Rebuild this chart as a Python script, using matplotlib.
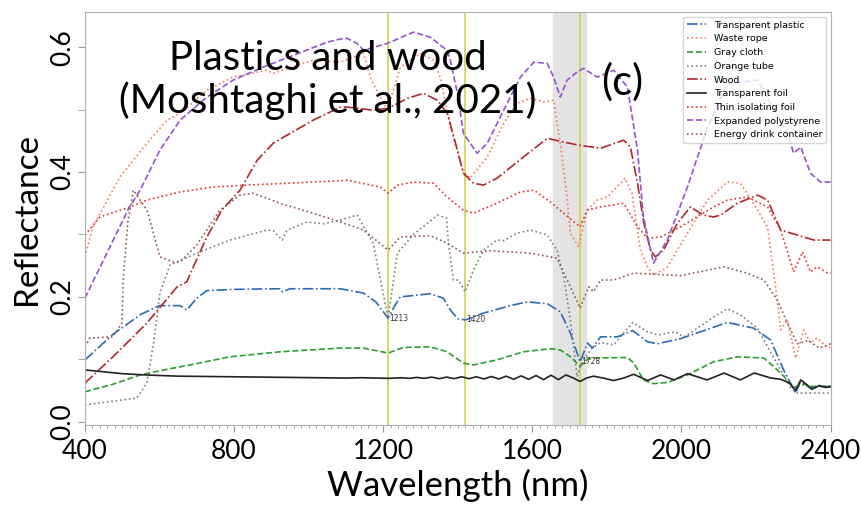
import matplotlib
matplotlib.use("Agg")
import matplotlib.pyplot as plt
from matplotlib.ticker import MultipleLocator, FixedLocator

# Reflectance spectra, wavelength in nm
wl_plastic = [400, 475, 550, 600, 655, 673, 700, 727, 800, 923, 930, 950, 1085, 1147, 1180, 1213,
              1230, 1246, 1326, 1361, 1380, 1400, 1420, 1469, 1541, 1586, 1640, 1675, 1702, 1728,
              1748, 1761, 1783, 1828, 1869, 1909, 1936, 1997, 2060, 2123, 2193, 2239, 2274, 2306,
              2319, 2346, 2365, 2400]
r_plastic = [0.099, 0.140, 0.172, 0.186, 0.186, 0.179, 0.198, 0.210, 0.212, 0.213, 0.208, 0.213, 0.213,
             0.206, 0.192, 0.166, 0.185, 0.200, 0.205, 0.198, 0.179, 0.165, 0.163, 0.174, 0.186,
             0.192, 0.189, 0.176, 0.142, 0.096, 0.126, 0.118, 0.136, 0.136, 0.146, 0.128, 0.125,
             0.133, 0.146, 0.159, 0.150, 0.131, 0.083, 0.046, 0.064, 0.054, 0.058, 0.056]

wl_rope = [400, 421, 494, 566, 620, 655, 727, 797, 888, 905, 942, 1012, 1085, 1147, 1168, 1211,
           1246, 1300, 1335, 1353, 1380, 1415, 1433, 1479, 1523, 1559, 1595, 1631, 1657, 1675,
           1693, 1702, 1724, 1747, 1774, 1801, 1827, 1849, 1867, 1890, 1909, 1925, 1962, 2016,
           2070, 2123, 2158, 2193, 2231, 2257, 2266, 2284, 2306, 2328, 2346, 2364, 2392, 2400]
r_rope = [0.264, 0.312, 0.392, 0.446, 0.483, 0.494, 0.531, 0.552, 0.563, 0.558, 0.566, 0.579, 0.576,
          0.590, 0.547, 0.499, 0.568, 0.590, 0.579, 0.552, 0.472, 0.400, 0.390, 0.424, 0.478,
          0.510, 0.518, 0.512, 0.515, 0.446, 0.360, 0.302, 0.280, 0.339, 0.355, 0.360, 0.376,
          0.390, 0.366, 0.275, 0.248, 0.235, 0.248, 0.302, 0.355, 0.384, 0.382, 0.350, 0.312,
          0.195, 0.147, 0.163, 0.102, 0.147, 0.126, 0.134, 0.118, 0.120]

wl_cloth = [400, 475, 548, 620, 682, 789, 923, 1085, 1147, 1213, 1254, 1326, 1371, 1415, 1442,
            1505, 1576, 1648, 1675, 1700, 1728, 1748, 1764, 1855, 1872, 1898, 1925, 1962, 2016,
            2086, 2150, 2221, 2248, 2274, 2301, 2330, 2355, 2400]
r_cloth = [0.048, 0.060, 0.075, 0.084, 0.091, 0.104, 0.112, 0.118, 0.118, 0.110, 0.119, 0.120, 0.112,
           0.094, 0.091, 0.099, 0.112, 0.117, 0.115, 0.105, 0.089, 0.100, 0.102, 0.103, 0.094,
           0.067, 0.061, 0.063, 0.075, 0.096, 0.104, 0.102, 0.088, 0.073, 0.055, 0.060, 0.056, 0.057]

wl_tube = [400, 539, 566, 584, 601, 628, 700, 789, 888, 905, 929, 942, 996, 1040, 1085, 1130,
           1173, 1213, 1238, 1281, 1346, 1370, 1375, 1388, 1401, 1420, 1442, 1469, 1505, 1523,
           1559, 1595, 1640, 1666, 1684, 1702, 1720, 1730, 1742, 1761, 1783, 1818, 1869, 1909,
           1936, 1984, 2006, 2033, 2087, 2123, 2158, 2204, 2231, 2266, 2293, 2311, 2355, 2400]
r_tube = [0.027, 0.038, 0.062, 0.126, 0.206, 0.251, 0.270, 0.291, 0.307, 0.306, 0.291, 0.307, 0.320,
          0.317, 0.323, 0.331, 0.286, 0.166, 0.270, 0.300, 0.331, 0.326, 0.286, 0.227, 0.227,
          0.208, 0.243, 0.275, 0.291, 0.290, 0.302, 0.307, 0.299, 0.275, 0.232, 0.163, 0.072,
          0.090, 0.104, 0.118, 0.127, 0.123, 0.159, 0.144, 0.139, 0.144, 0.136, 0.146, 0.168,
          0.181, 0.171, 0.150, 0.120, 0.083, 0.054, 0.046, 0.046, 0.046]

wl_wood = [400, 475, 566, 647, 673, 695, 727, 767, 816, 862, 905, 942, 1012, 1085, 1103, 1173,
           1213, 1265, 1308, 1345, 1372, 1399, 1415, 1442, 1469, 1505, 1576, 1640, 1684, 1724,
           1783, 1845, 1863, 1882, 1899, 1917, 1930, 1952, 1989, 2024, 2059, 2086, 2105, 2150,
           2204, 2231, 2266, 2311, 2355, 2400]
r_wood = [0.062, 0.104, 0.158, 0.216, 0.224, 0.254, 0.296, 0.339, 0.371, 0.419, 0.446, 0.459, 0.483,
          0.504, 0.504, 0.499, 0.502, 0.518, 0.526, 0.515, 0.494, 0.435, 0.398, 0.382, 0.379,
          0.390, 0.424, 0.454, 0.448, 0.443, 0.438, 0.451, 0.440, 0.382, 0.318, 0.275, 0.264,
          0.275, 0.318, 0.344, 0.331, 0.328, 0.331, 0.350, 0.363, 0.355, 0.307, 0.299, 0.291, 0.291]

wl_foil = [400, 450, 500, 560, 650, 800, 950, 1100, 1140, 1180, 1213, 1250, 1270, 1290, 1310,
           1330, 1350, 1370, 1390, 1410, 1430, 1450, 1470, 1490, 1510, 1530, 1550, 1570, 1590,
           1610, 1630, 1650, 1670, 1690, 1710, 1728, 1745, 1764, 1790, 1818, 1845, 1872, 1909,
           1944, 1980, 2016, 2069, 2114, 2158, 2195, 2240, 2266, 2290, 2306, 2320, 2335, 2350,
           2370, 2385, 2400]
r_foil = [0.083, 0.080, 0.077, 0.075, 0.073, 0.072, 0.071, 0.070, 0.0705, 0.070, 0.0695, 0.0705,
          0.0695, 0.071, 0.0695, 0.0715, 0.069, 0.0715, 0.069, 0.072, 0.069, 0.072, 0.0685,
          0.0725, 0.0685, 0.073, 0.068, 0.0735, 0.068, 0.074, 0.0675, 0.0745, 0.0675, 0.075,
          0.070, 0.0645, 0.070, 0.073, 0.070, 0.066, 0.070, 0.076, 0.066, 0.075, 0.067, 0.077,
          0.067, 0.078, 0.067, 0.078, 0.070, 0.068, 0.062, 0.050, 0.067, 0.060, 0.052, 0.058,
          0.055, 0.056]

wl_isofoil = [400, 440, 521, 566, 655, 744, 834, 942, 1085, 1103, 1192, 1213, 1238, 1281, 1335,
              1371, 1415, 1442, 1505, 1568, 1604, 1648, 1684, 1728, 1747, 1783, 1845, 1882, 1909,
              1944, 1997, 2086, 2123, 2176, 2231, 2266, 2301, 2325, 2346, 2364, 2392, 2400]
r_isofoil = [0.299, 0.328, 0.344, 0.355, 0.368, 0.376, 0.379, 0.382, 0.386, 0.387, 0.376, 0.366,
             0.379, 0.384, 0.382, 0.360, 0.339, 0.334, 0.350, 0.368, 0.371, 0.352, 0.334, 0.312,
             0.339, 0.344, 0.350, 0.312, 0.294, 0.296, 0.312, 0.344, 0.355, 0.360, 0.344, 0.307,
             0.240, 0.272, 0.240, 0.248, 0.238, 0.238]

wl_eps = [400, 515, 548, 601, 655, 727, 797, 870, 959, 1050, 1085, 1103, 1130, 1147, 1211, 1281,
          1326, 1371, 1380, 1399, 1415, 1452, 1479, 1523, 1568, 1604, 1640, 1657, 1675, 1693,
          1720, 1737, 1774, 1818, 1855, 1882, 1898, 1925, 1962, 2016, 2070, 2123, 2204, 2284,
          2301, 2320, 2346, 2373, 2400]
r_eps = [0.198, 0.339, 0.371, 0.435, 0.483, 0.520, 0.547, 0.566, 0.587, 0.608, 0.613, 0.614, 0.606,
         0.595, 0.606, 0.624, 0.616, 0.595, 0.579, 0.526, 0.462, 0.430, 0.446, 0.499, 0.552,
         0.576, 0.574, 0.552, 0.520, 0.547, 0.560, 0.566, 0.552, 0.563, 0.536, 0.435, 0.328,
         0.254, 0.291, 0.376, 0.472, 0.542, 0.547, 0.462, 0.430, 0.440, 0.398, 0.384, 0.384]

wl_drink = [400, 413, 475, 499, 503, 515, 530, 566, 574, 601, 637, 655, 700, 762, 816, 851, 923,
            1012, 1085, 1147, 1213, 1246, 1326, 1371, 1415, 1487, 1595, 1666, 1702, 1728, 1751,
            1764, 1783, 1818, 1872, 1997, 2114, 2176, 2221, 2257, 2284, 2311, 2340, 2370, 2400]
r_drink = [0.120, 0.134, 0.136, 0.158, 0.232, 0.320, 0.371, 0.339, 0.323, 0.264, 0.256, 0.256, 0.283,
           0.339, 0.363, 0.366, 0.350, 0.334, 0.320, 0.307, 0.275, 0.296, 0.298, 0.286, 0.270,
           0.274, 0.270, 0.262, 0.216, 0.182, 0.216, 0.208, 0.227, 0.227, 0.238, 0.234, 0.248,
           0.238, 0.227, 0.195, 0.158, 0.125, 0.130, 0.118, 0.125]

# Absorption features marked on the transparent plastic spectrum
feature_wl = [1213, 1420, 1728]
feature_r = [0.166, 0.163, 0.096]
band_lo, band_hi = 1655, 1745

series = [
    ("Transparent plastic", wl_plastic, r_plastic, "#2b6cb8", "-."),
    ("Waste rope", wl_rope, r_rope, "#f47c5c", ":"),
    ("Gray cloth", wl_cloth, r_cloth, "#2ca02c", "--"),
    ("Orange tube", wl_tube, r_tube, "#7f7f7f", ":"),
    ("Wood", wl_wood, r_wood, "#b0282a", "-."),
    ("Transparent foil", wl_foil, r_foil, "#222222", "-"),
    ("Thin isolating foil", wl_isofoil, r_isofoil, "#e3322e", ":"),
    ("Expanded polystyrene", wl_eps, r_eps, "#9254d0", "--"),
    ("Energy drink container", wl_drink, r_drink, "#8c5a50", ":"),
]

fig = plt.figure(figsize=(8.61, 5.07), dpi=100)
ax = fig.add_axes([0.0987, 0.162, 0.866, 0.814])

ax.axvspan(band_lo, band_hi, color="#e3e3e3", zorder=0)
for f in feature_wl:
    ax.axvline(f, color="#d6d45a", lw=1.3, zorder=1)

for name, x, y, c, ls in series:
    ax.plot(x, y, ls, color=c, lw=1.2, label=name, zorder=2)

for f, r in zip(feature_wl, feature_r):
    ax.text(f + 2, r, str(f), fontsize=5.5, color="#333333", ha="left", va="center", zorder=3)

ax.set_xlim(400, 2400)
ax.set_ylim(-0.005, 0.656)
ax.set_xticks([400, 800, 1200, 1600, 2000, 2400])
ax.xaxis.set_minor_locator(MultipleLocator(20))
ax.set_yticks([0.0, 0.2, 0.4, 0.6])
ax.yaxis.set_minor_locator(FixedLocator([0.1, 0.3, 0.5]))

tick_font = dict(family="Lato", size=19)
ax.set_xticklabels(["400", "800", "1200", "1600", "2000", "2400"], fontdict=tick_font)
ax.set_yticklabels(["0.0", "0.2", "0.4", "0.6"], fontdict=tick_font, rotation=90, va="center")
ax.tick_params(axis="both", which="major", length=5, color="#999999", pad=2)
ax.tick_params(axis="x", which="major", pad=5)
ax.tick_params(axis="y", which="minor", length=5, color="#999999")
ax.tick_params(axis="x", which="minor", length=2, color="#999999")
for s in ax.spines.values():
    s.set_color("#b0b0b0")

ax.set_xlabel("Wavelength (nm)", family="Lato", fontsize=25, labelpad=4)
ax.set_ylabel("Reflectance", family="Lato", fontsize=24, labelpad=6)

ax.text(0.326, 0.835, "Plastics and wood\n(Moshtaghi et al., 2021)", transform=ax.transAxes,
        family="Lato", fontsize=29, ha="center", va="center", linespacing=1.15, zorder=4)
ax.text(0.72, 0.83, "(c)", transform=ax.transAxes, family="Lato", fontsize=30,
        ha="center", va="center", zorder=4)

leg = ax.legend(loc="upper right", fontsize=6.8, frameon=True, borderaxespad=0.5)
leg.get_frame().set_edgecolor("#cccccc")

fig.savefig("out.png", dpi=100)
